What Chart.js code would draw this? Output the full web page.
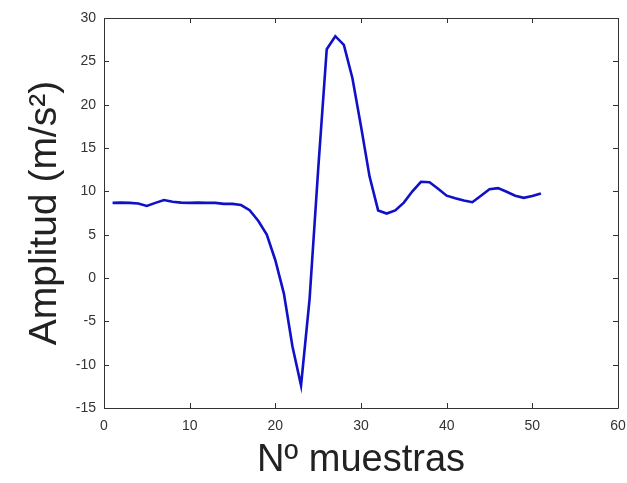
<!DOCTYPE html>
<html>
<head>
<meta charset="utf-8">
<script src="https://cdn.jsdelivr.net/npm/chart.js@4/dist/chart.umd.min.js"></script>
<style>
  html, body { margin: 0; padding: 0; background: #fff; }
  #wrap { width: 627px; height: 483px; }
</style>
</head>
<body>
<div id="wrap"><canvas id="signal"></canvas></div>
<script>
// sample numbers 1..51
const samples = [1,2,3,4,5,6,7,8,9,10,11,12,13,14,15,16,17,18,19,20,21,22,23,24,25,26,
  27,28,29,30,31,32,33,34,35,36,37,38,39,40,41,42,43,44,45,46,47,48,49,50,51]
// amplitude in m/s^2
const amplitude = [8.67,8.7,8.67,8.6,8.32,8.67,9.0,8.8,8.7,8.67,8.7,8.67,8.67,8.55,8.55,8.42,
  7.83,6.6,5.0,2.05,-1.8,-7.9,-12.4,-2.4,12.5,26.4,27.9,26.9,23.05,17.5,11.7,7.8,7.44,7.8,
  8.7,10.0,11.1,11.05,10.3,9.5,9.2,8.95,8.75,9.5,10.25,10.37,9.95,9.5,9.25,9.45,9.75]

const xTicks = [0, 10, 20, 30, 40, 50, 60]
const yTicks = [-15, -10, -5, 0, 5, 10, 15, 20, 25, 30]

const axisColor = '#333333'

// MATLAB style box with inward ticks on all four sides
const boxTicks = {
  id: 'boxTicks',
  afterDraw(chart) {
    const {ctx, chartArea: a, scales: {x, y}} = chart
    const len = 5
    ctx.save()
    ctx.strokeStyle = axisColor
    ctx.lineWidth = 1
    ctx.beginPath()
    ctx.rect(Math.round(a.left) + 0.5, Math.round(a.top) + 0.5,
      Math.round(a.right - a.left), Math.round(a.bottom - a.top))
    xTicks.forEach(v => {
      const px = Math.round(x.getPixelForValue(v)) + 0.5
      ctx.moveTo(px, a.bottom); ctx.lineTo(px, a.bottom - len)
      ctx.moveTo(px, a.top); ctx.lineTo(px, a.top + len)
    })
    yTicks.forEach(v => {
      const py = Math.round(y.getPixelForValue(v)) + 0.5
      ctx.moveTo(a.left, py); ctx.lineTo(a.left + len, py)
      ctx.moveTo(a.right, py); ctx.lineTo(a.right - len, py)
    })
    ctx.stroke()
    ctx.restore()
  }
}

const ctx = document.getElementById('signal').getContext('2d')

new Chart(ctx, {
  type: 'line',
  data: {
    datasets: [{
      data: samples.map((s, i) => ({x: s, y: amplitude[i]})),
      borderColor: '#1010c8',
      borderWidth: 2.6,
      pointRadius: 0,
      tension: 0,
      fill: false
    }]
  },
  options: {
    responsive: true,
    maintainAspectRatio: false,
    animation: false,
    layout: { padding: { top: 18, right: 0, left: 0, bottom: 0 } },
    plugins: {
      legend: { display: false },
      tooltip: { enabled: false }
    },
    scales: {
      x: {
        type: 'linear',
        min: 0,
        max: 60,
        afterBuildTicks: s => { s.ticks = xTicks.map(v => ({value: v})) },
        afterFit: s => { s.height = 75; s.paddingLeft = 0; s.paddingRight = 9 },
        grid: { display: false, drawTicks: false },
        border: { display: false },
        ticks: {
          padding: 10,
          color: axisColor,
          font: { family: 'Liberation Sans, Arial, sans-serif', size: 14 },
          maxRotation: 0
        },
        title: {
          display: true,
          text: 'Nº muestras',
          color: '#222',
          padding: { top: 0, bottom: 3 },
          font: { family: 'Liberation Sans, Arial, sans-serif', size: 38, lineHeight: 1 }
        }
      },
      y: {
        min: -15,
        max: 30,
        afterBuildTicks: s => { s.ticks = yTicks.map(v => ({value: v})) },
        afterFit: s => { s.width = 104 },
        grid: { display: false, drawTicks: false },
        border: { display: false },
        ticks: {
          padding: 8,
          color: axisColor,
          font: { family: 'Liberation Sans, Arial, sans-serif', size: 14 }
        },
        title: {
          display: true,
          text: 'Amplitud (m/s²)',
          color: '#222',
          padding: { top: 26, bottom: 0 },
          font: { family: 'Liberation Sans, Arial, sans-serif', size: 39, lineHeight: 1 }
        }
      }
    }
  },
  plugins: [boxTicks]
})
</script>
</body>
</html>
